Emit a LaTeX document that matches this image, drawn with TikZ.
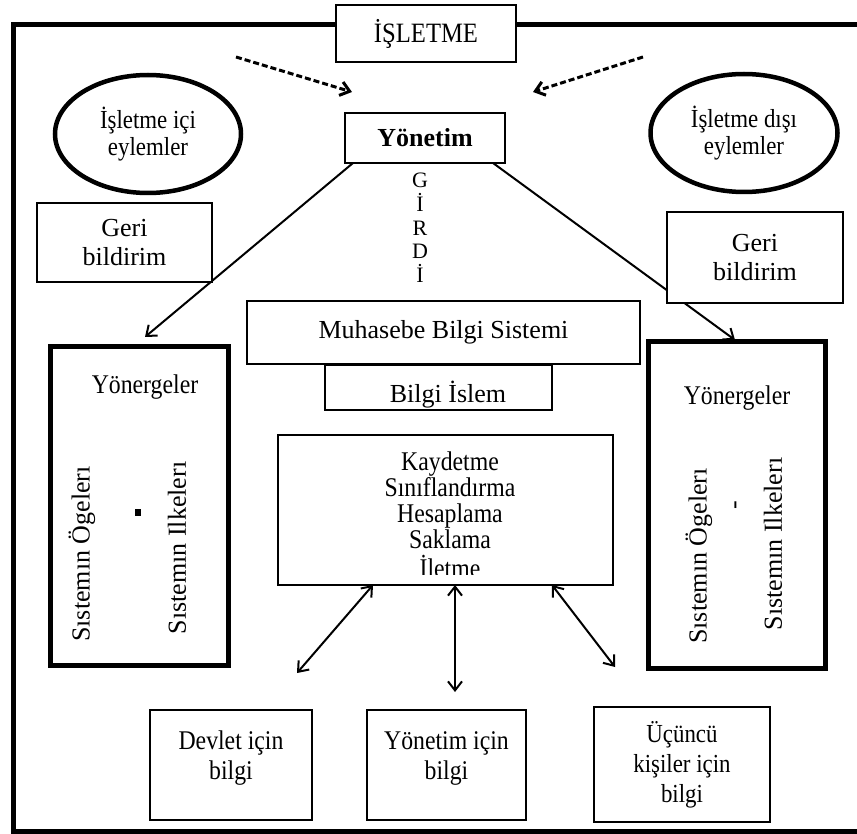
\documentclass[tikz,border=0pt]{standalone}
\usepackage{fontspec}
\setmainfont{Liberation Serif}
\newfontfamily\condserif[FakeStretch=0.88]{Liberation Serif}
\usetikzlibrary{arrows.meta,shapes.geometric}
\pgfdeclarelayer{bg}
\pgfsetlayers{bg,main}
\newcommand\myfs[2]{\fontsize{#1}{#2}\selectfont}
\begin{document}
\begin{tikzpicture}[x=1pt,y=-1pt,
 every node/.style={inner sep=0pt,outer sep=0pt},
 thinbox/.style={draw,rectangle,fill=white,line width=2pt},
 medbox/.style={thinbox,line width=2.6pt},
 thickbox/.style={thinbox,line width=5pt},
 oval/.style={draw,ellipse,fill=white,line width=4.5pt,align=center,font=\condserif\myfs{26}{27}},
 lbl/.style={align=center},
 conn/.style={line width=2pt,-{Straight Barb[length=9pt,width=14pt]}},
 dconn/.style={line width=3pt,dash pattern=on 6pt off 3pt,-{Straight Barb[length=9pt,width=14pt]}},
 bconn/.style={line width=2pt,{Straight Barb[length=9pt,width=14pt]}-{Straight Barb[length=9pt,width=14pt]}},
]
\useasboundingbox (0,0) rectangle (857,834);
\draw[line width=5pt] (13,25) rectangle (880,831);

\node[medbox,minimum width=180,minimum height=57,font=\condserif\myfs{28}{28}] (isl) at (426,33.5) {İŞLETME};
\node[medbox,minimum width=160,minimum height=50,font=\myfs{26}{28}\bfseries] (yon) at (425,138) {Yönetim};
\node[oval,minimum width=186,minimum height=118] (ellL) at (148,134) {İşletme içi\\eylemler};
\node[oval,minimum width=187,minimum height=118] (ellR) at (744,133) {İşletme dışı\\eylemler};
\node[thinbox,minimum width=175,minimum height=79,align=center,font=\myfs{26}{29}] (geriL) at (124.5,242.5) {Geri\\bildirim};
\node[thinbox,minimum width=176,minimum height=91,align=center,font=\myfs{26}{29}] (geriR) at (755,257.5) {Geri\\bildirim};
\node[lbl,font=\myfs{22}{23.7}] (girdi) at (420,228) {G\\İ\\R\\D\\İ};
\node[thinbox,minimum width=393,minimum height=63,font=\myfs{26}{28}] (mbs) at (443.5,332.5) {Muhasebe Bilgi Sistemi};
\node[thinbox,minimum width=227,minimum height=45] (bis) at (438.5,387.5) {};
\begin{scope}
 \clip (bis.south west) rectangle (bis.north east);
 \node[anchor=base,font=\myfs{26}{28}] (bist) at (448,402) {Bilgi İslem};
\end{scope}

\node[thickbox,minimum width=178,minimum height=318] (yL) at (139,506) {};
\node[font=\condserif\myfs{27}{28}] (yLt) at (145,387) {Yönergeler};
\node[rotate=90,font=\myfs{26}{28}] (yLa) at (82,554) {Sıstemın Ögelerı};
\node[rotate=90,font=\myfs{26}{28}] (yLb) at (177,548) {Sıstemın Ilkelerı};
\node[fill=black,minimum width=6,minimum height=7] (yLd) at (138,512) {};

\node[thickbox,minimum width=177,minimum height=327] (yR) at (737,505) {};
\node[font=\condserif\myfs{27}{28}] (yRt) at (737,398) {Yönergeler};
\node[rotate=90,font=\myfs{26}{28}] (yRa) at (699,556) {Sıstemın Ögelerı};
\node[rotate=90,font=\myfs{26}{28}] (yRb) at (773,544) {Sıstemın Ilkelerı};
\node[rotate=90,font=\myfs{26}{28}] (yRd) at (738,505) {-};

\node[medbox,minimum width=335,minimum height=150] (kay) at (445.5,510) {};
\begin{scope}[every node/.append style={anchor=base,font=\condserif\myfs{27}{26}}]
 \clip (279,436) rectangle (612,574);
 \node (k1) at (450,470) {Kaydetme};
 \node (k2) at (450,496) {Sınıflandırma};
 \node (k3) at (450,522) {Hesaplama};
 \node (k4) at (450,548) {Saklama};
 \node (k5) at (450,577) {İletme};
\end{scope}

\node[medbox,minimum width=162,minimum height=110] (dev) at (231,765) {};
\node[lbl,font=\condserif\myfs{27}{30}] (devt) at (231,758) {Devlet için\\bilgi};
\node[medbox,minimum width=159,minimum height=110] (ynb) at (446.5,765) {};
\node[lbl,font=\condserif\myfs{27}{30}] (ynbt) at (446.5,758) {Yönetim için\\bilgi};
\node[medbox,minimum width=176,minimum height=115,align=center,font=\condserif\myfs{26}{30}] (ucu) at (682,764.5) {Üçüncü\\kişiler için\\bilgi};

\begin{pgfonlayer}{bg}
 \fill[white] (0,0) rectangle (857,834);
 \coordinate (tL) at (145,337);
 \coordinate (tR) at (735,340);
 \draw[conn] ([xshift=-72pt]yon.south) -- (tL);
 \draw[conn] ([xshift=68pt]yon.south) -- (tR);
 \coordinate (dL1) at (236,57);
 \coordinate (dL2) at (352,92);
 \coordinate (dR1) at (643,57);
 \coordinate (dR2) at (533,92);
 \draw[dconn] (dL1) -- (dL2);
 \draw[dconn] (dR1) -- (dR2);
 \coordinate (bL) at (297,673);
 \coordinate (bM) at (455,692);
 \coordinate (bR) at (615,667);
 \draw[bconn] ([xshift=-72.5pt]kay.south) -- (bL);
 \draw[bconn] ([xshift=9.5pt]kay.south) -- (bM);
 \draw[bconn] ([xshift=106.5pt]kay.south) -- (bR);
\end{pgfonlayer}
\end{tikzpicture}
\end{document}
